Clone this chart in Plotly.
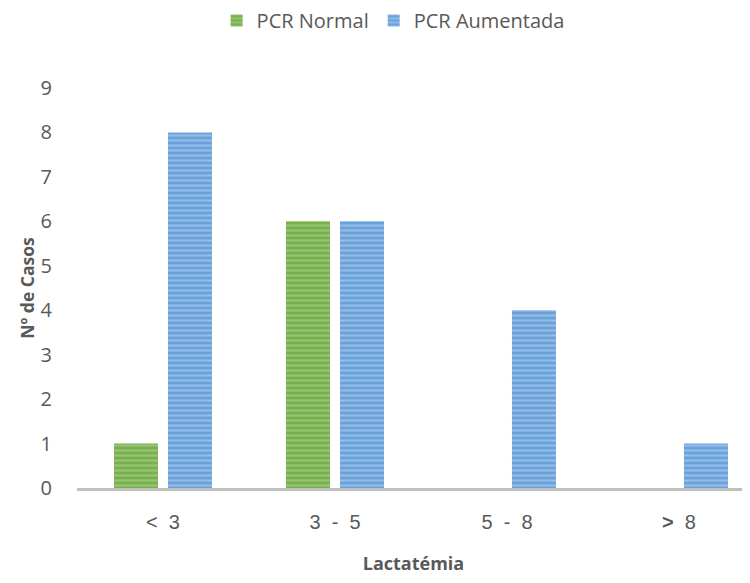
import plotly.graph_objects as go

categories = ["<  3", "3  -  5", "5  -  8", "<b>></b>  8"]
pcr_normal = [1, 6, 0, 0]
pcr_aumentada = [8, 6, 4, 1]
y_ticks = [0, 1, 2, 3, 4, 5, 6, 7, 8, 9]

fig = go.Figure()
fig.add_trace(go.Bar(
    name="PCR Normal", x=categories, y=pcr_normal,
    marker=dict(color="#7DB552", line=dict(width=0),
                pattern=dict(shape="-", fgcolor="#B5D69C", bgcolor="#78B04C", size=5, solidity=0.45)),
))
fig.add_trace(go.Bar(
    name="PCR Aumentada", x=categories, y=pcr_aumentada,
    marker=dict(color="#6FA5DC", line=dict(width=0),
                pattern=dict(shape="-", fgcolor="#B9D4F0", bgcolor="#6AA2DB", size=5, solidity=0.45)),
))

fig.update_layout(
    width=742, height=567,
    margin=dict(l=69, r=0, t=80, b=87),
    paper_bgcolor="white", plot_bgcolor="white",
    barmode="group", bargap=0.372, bargroupgap=0.185,
    font=dict(family="Open Sans, Liberation Sans", color="#595959", size=20),
    legend=dict(orientation="h", xref="container", yref="container",
                x=0.519, xanchor="center", y=0.978, yanchor="middle",
                font=dict(size=20, color="#595959"), itemwidth=30, traceorder="normal"),
    xaxis=dict(
        range=[-0.5, 3.413], showgrid=False, showline=True, linecolor="#BFBFBF", linewidth=3,
        ticks="", ticklabelstandoff=14,
        tickfont=dict(family="Liberation Sans Narrow, Liberation Sans", size=20, color="#595959"),
        title=dict(text="<b>Lactatémia</b>", font=dict(size=18, color="#595959"), standoff=29),
    ),
    yaxis=dict(
        range=[0, 9], tickvals=y_ticks, showgrid=False, zeroline=False, showline=False,
        ticks="", ticklabelstandoff=24,
        tickfont=dict(size=20, color="#595959"),
        title=dict(text="<b>Nº de Casos</b>", font=dict(size=17.5, color="#595959"), standoff=1),
    ),
)

fig.write_html("out.html")
